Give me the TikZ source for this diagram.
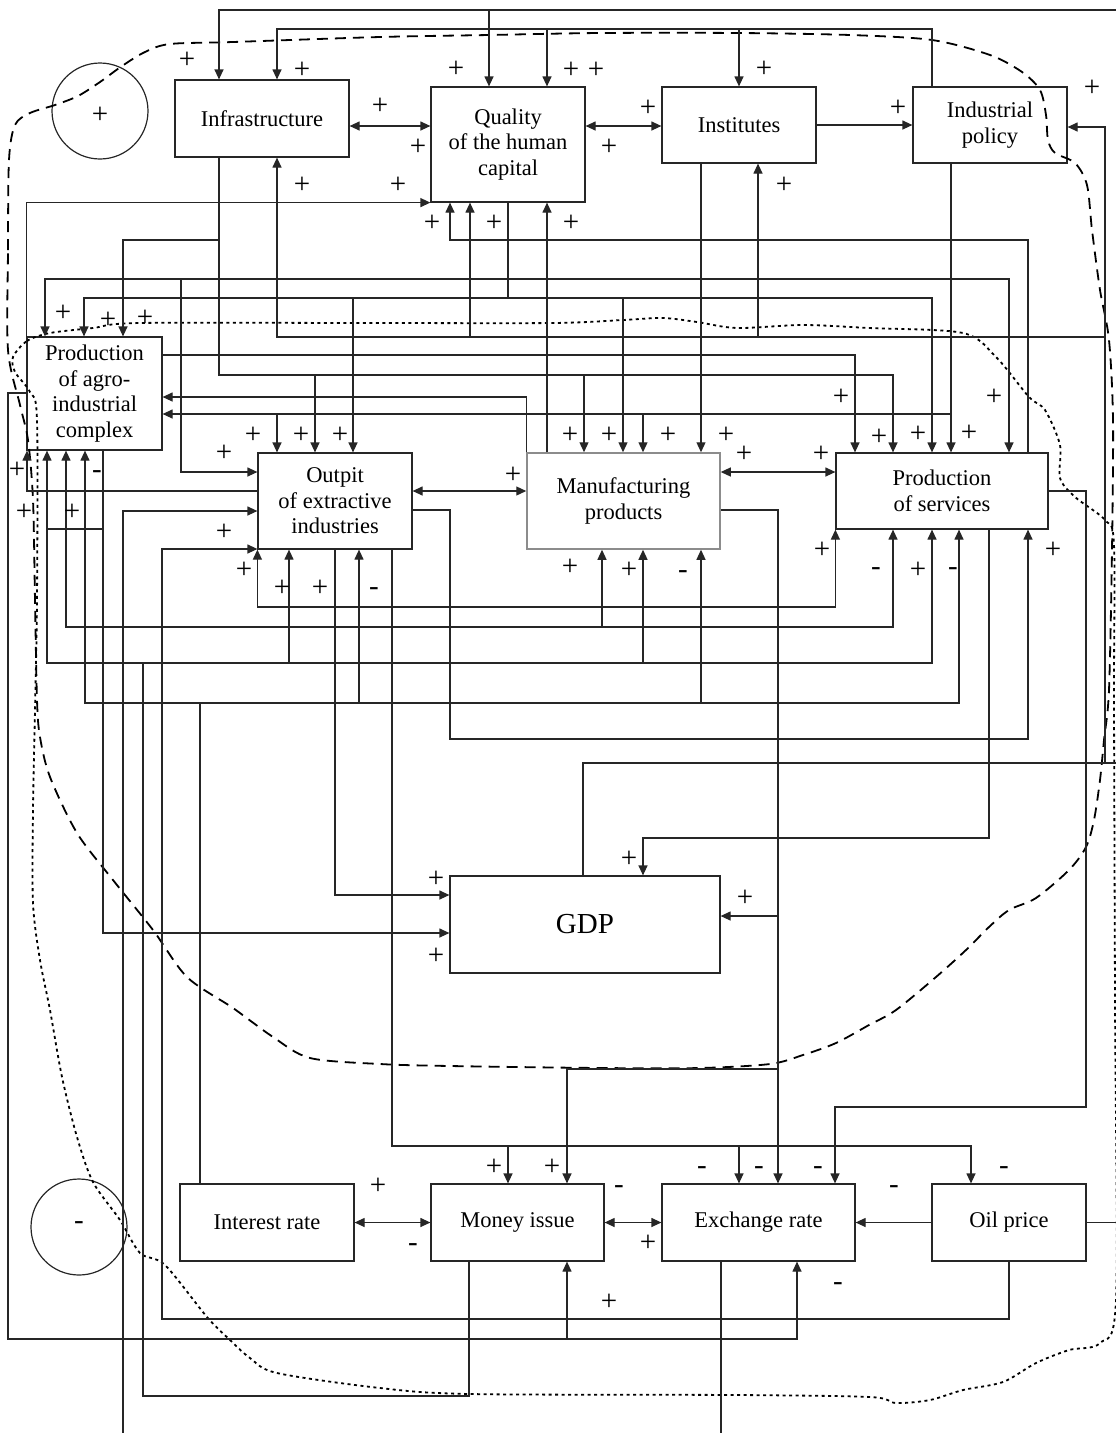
\documentclass[tikz,border=0pt]{standalone}
\usepackage{fontspec}
\setmainfont{Liberation Serif}
\usetikzlibrary{arrows.meta}
\begin{document}
\begin{tikzpicture}[x=1pt,y=-1pt,
 box/.style={draw=black!85, line width=1.2pt, inner sep=2pt, align=center, font=\fontsize{22.5}{25.5}\selectfont},
 ln/.style={draw=black!85, line width=1.2pt},
 ar/.style={ln, -{Triangle[length=10pt,width=9pt]}},
 dar/.style={ln, {Triangle[length=10pt,width=9pt]}-{Triangle[length=10pt,width=9pt]}},
 lab/.style={inner sep=0pt, font=\fontsize{29}{29}\selectfont},
 circ/.style={circle, draw=black!85, line width=1.2pt, minimum size=96pt, inner sep=0pt},
 dashloop/.style={line width=1.8pt, dash pattern=on 11pt off 7pt},
 dotloop/.style={line width=1.8pt, dash pattern=on 3pt off 3.5pt}]
\useasboundingbox (0,0) rectangle (1116,1433);

% nodes
\node[box, minimum width=174pt, minimum height=77pt] (infra) at (262,118.5) {Infrastructure};
\node[box, minimum width=154pt, minimum height=115pt] (quality) at (508,144.5) {Quality\\of the human\\capital};
\node[box, minimum width=154pt, minimum height=76pt] (inst) at (739,125) {Institutes};
\node[box, minimum width=154pt, minimum height=76pt] (ipol) at (990,125) {Industrial\\policy};
\node[box, minimum width=135pt, minimum height=113pt] (agro) at (94.5,393.5) {Production\\of agro-\\industrial\\complex};
\node[box, minimum width=154pt, minimum height=96pt] (outp) at (335,501) {Outpit\\of extractive\\industries};
\node[box, draw=black!45, line width=1.5pt, minimum width=193pt, minimum height=96pt] (manu) at (623.5,501) {Manufacturing\\products};
\node[box, minimum width=212pt, minimum height=76pt] (serv) at (942,491) {Production\\of services};
\node[box, minimum width=270pt, minimum height=97pt, font=\fontsize{29}{32}\selectfont] (gdp) at (585,924.5) {GDP};
\node[box, minimum width=174pt, minimum height=77pt] (irate) at (267,1222.5) {Interest rate};
\node[box, minimum width=173pt, minimum height=77pt] (money) at (517.5,1222.5) {Money issue};
\node[box, minimum width=193pt, minimum height=77pt] (exch) at (758.5,1222.5) {Exchange rate};
\node[box, minimum width=154pt, minimum height=77pt] (oil) at (1009,1222.5) {Oil price};
\node[circ] (cplus) at (100,111) {};
\node[circ] (cminus) at (79,1227) {};
\node[lab] (lcplus) at (100,115) {+};
\node[lab] (lcminus) at (79,1226) {-};

% free ends at the picture's edges
\coordinate (topR) at (1116,10);
\coordinate (oilR) at (1116,1222.5);
\coordinate (gdpR) at (1116,763);
\coordinate (botA) at (123,1433);
\coordinate (botB) at (721,1433);

% loops
\draw[dashloop] plot[smooth cycle, tension=0.5] coordinates {(8,350) (8,250) (9,160) (15,125) (30,113) (55,105) (78,96) (100,82) (122,66) (145,52) (170,44) (233,42) (380,37) (489,35) (600,33) (739,33) (850,35) (932,40) (990,55) (1022,72) (1040,90) (1046,115) (1048,140) (1055,153) (1075,163) (1087,185) (1092,230) (1100,290) (1109,340) (1113,420) (1112,550) (1109,690) (1104,740) (1100,780) (1094,820) (1086,847) (1069,870) (1036,898) (1009,910) (989,927) (966,950) (936,977) (896,1010) (869,1025) (836,1043) (803,1055) (770,1064) (700,1068) (600,1068) (450,1066) (380,1064) (310,1058) (273,1037) (233,1008) (187,977) (153,930) (113,880) (77,833) (50,777) (40,737) (37,700) (35,600) (33,500) (28,440) (20,405)};
\draw[dotloop] plot[smooth cycle, tension=0.5] coordinates {(13,357) (27,341) (50,333) (93,328) (140,323) (370,323) (553,323) (623,320) (663,318) (697,322) (737,328) (803,325) (869,328) (963,333) (996,357) (1029,397) (1045,410) (1060,445) (1060,478) (1075,497) (1105,520) (1114,545) (1114,700) (1115,1000) (1116,1300) (1100,1343) (1069,1350) (1036,1363) (1003,1382) (963,1390) (930,1400) (896,1403) (870,1397) (736,1395) (470,1394) (380,1388) (277,1373) (250,1358) (230,1340) (207,1317) (165,1265) (140,1253) (120,1220) (93,1182) (77,1137) (62,1077) (50,1010) (40,960) (33,903) (33,810) (35,710) (37,600) (37,420) (30,392) (15,372)};

% top feedback line
\draw[ar] (topR) -| (infra.north-|219,0);
\draw[ar] (489,10) -- (quality.north-|489,0);
% industrial policy -> infrastructure, quality, institutes
\draw[ar] (ipol.north-|932,0) |- (277,29) -- (infra.north-|277,0);
\draw[ar] (547,29) -- (quality.north-|547,0);
\draw[ar] (739,29) -- (inst.north-|739,0);
% horizontal links in the top row
\draw[dar] (infra.east|-0,126) -- (quality.west|-0,126);
\draw[dar] (quality.east|-0,126) -- (inst.west|-0,126);
\draw[ar] (inst.east|-0,125) -- (ipol.west|-0,125);
% GDP feedback
\draw[ar] (gdp.north-|583,0) |- (1105,763) |- (ipol.east|-0,127);
\draw[ln] (1105,763) -- (gdpR);
\draw[ar] (1105,337) -| (infra.south-|277,0);
\draw[ar] (470,337) -- (quality.south-|470,0);
\draw[ar] (758,337) -- (inst.south-|758,0);
% agro -> quality
\draw[ar] (agro.north west) |- (quality.south west);
% services -> quality
\draw[ar] (serv.north-|1028,0) |- (450,240) -- (quality.south-|450,0);
% infrastructure -> sectors
\draw[ar] (infra.south-|219,0) |- (893,375) -- (serv.north-|893,0);
\draw[ar] (219,240) -| (agro.north-|123,0);
\draw[ar] (315,375) -- (outp.north-|315,0);
\draw[ar] (584,375) -- (manu.north-|584,0);
% quality -> sectors
\draw[ar] (quality.south-|508,0) |- (84,298) -- (agro.north-|84,0);
\draw[ar] (508,298) -| (serv.north-|932,0);
\draw[ar] (353,298) -- (outp.north-|353,0);
\draw[ar] (623,298) -- (manu.north-|623,0);
% institutes -> sectors
\draw[ar] (inst.south-|701,0) -- (manu.north-|701,0);
\draw[ar] (701,279) -| (agro.north-|45,0);
\draw[ar] (701,279) -| (serv.north-|1009,0);
\draw[ar] (181,279) |- (outp.west|-0,472);
% industrial policy -> sectors
\draw[ar] (ipol.south-|951,0) -- (serv.north-|951,0);
\draw[ar] (951,414) -- (agro.east|-0,414);
\draw[ar] (277,414) -- (outp.north-|277,0);
\draw[ar] (643,414) -- (manu.north-|643,0);
% manufacturing -> agro, quality
\draw[ar] (manu.north west) |- (agro.east|-0,397);
\draw[ar] (manu.north-|547,0) -- (quality.south-|547,0);
% agro -> services
\draw[ar] (agro.east|-0,355) -| (serv.north-|855,0);
% middle row links
\draw[dar] (outp.east|-0,491) -- (manu.west|-0,491);
\draw[dar] (manu.east|-0,472) -- (serv.west|-0,472);
\draw[ar] (outp.west|-0,491) -| (agro.south-|27,0);
% agro -> GDP
\draw[ar] (agro.south-|103,0) |- (gdp.west|-0,933);
\draw[ln] (103,529) -- (47,529);
% money issue -> sectors
\draw[ar] (money.south-|469,0) |- (143,1396) |- (47,663) -- (agro.south-|47,0);
\draw[ar] (143,663) -| (serv.south-|932,0);
\draw[ar] (289,663) -- (outp.south-|289,0);
\draw[ar] (643,663) -- (manu.south-|643,0);
% interest rate -> sectors
\draw[ar] (irate.north-|200,0) |- (85,703) -- (agro.south-|85,0);
\draw[ar] (200,703) -| (serv.south-|959,0);
\draw[ar] (359,703) -- (outp.south-|359,0);
\draw[ar] (701,703) -- (manu.south-|701,0);
% exchange rate -> sectors (through the bottom edge)
\draw[ln] (exch.south-|721,0) -- (botB);
\draw[ar] (botA) |- (outp.west|-0,511);
\draw[ar] (123,627) -| (agro.south-|66,0);
\draw[ar] (123,627) -| (serv.south-|893,0);
\draw[ar] (602,627) -- (manu.south-|602,0);
% y=607 line
\draw[ar] (778,607) -| (outp.south west);
\draw[ar] (778,607) -| (serv.south west);
% outpit -> GDP, services, money, exchange, oil
\draw[ar] (outp.south-|335,0) |- (gdp.west|-0,895);
\draw[ar] (outp.east|-0,510) -| (450,739) -| (serv.south-|1028,0);
\draw[ar] (outp.south-|392,0) |- (971,1146) -- (oil.north-|971,0);
\draw[ar] (508,1146) -- (money.north-|508,0);
\draw[ar] (739,1146) -- (exch.north-|739,0);
% manufacturing -> GDP, money, exchange
\draw[ar] (manu.east|-0,510) -| (778,1069) -- (exch.north-|778,0);
\draw[ar] (778,916) -- (gdp.east|-0,916);
\draw[ar] (778,1069) -| (money.north-|567,0);
% services -> GDP, exchange
\draw[ar] (serv.south-|989,0) |- (643,838) -- (gdp.north-|643,0);
\draw[ar] (serv.east|-0,491) -| (1086,1107) -| (exch.north-|835,0);
% bottom row
\draw[dar] (irate.east) -- (money.west);
\draw[dar] (money.east) -- (exch.west);
\draw[ar] (oil.west) -- (exch.east);
\draw[ln] (oil.east) -- (oilR);
\draw[ar] (oil.south-|1009,0) |- (162,1319) |- (outp.west|-0,549);
\draw[ar] (agro.west|-0,393) -| (8,1339) -| (exch.south-|797,0);
\draw[ar] (567,1339) -- (money.south-|567,0);

% sign labels
\foreach \x/\y/\s in {187/60/+, 302/70/+, 456/69/+, 571/70/+, 596/70/+, 764/69/+, 1092/88/+, 380/106/+, 418/147/+, 648/108/+, 609/147/+, 898/108/+, 302/185/+, 398/185/+, 784/185/+, 432/223/+, 494/223/+, 571/223/+, 63/313/+, 108/320/+, 145/318/+, 841/397/+, 994/397/+, 253/435/+, 301/435/+, 340/435/+, 570/435/+, 609/435/+, 668/435/+, 726/435/+, 879/437/+, 918/434/+, 969/433/+, 224/453/+, 513/475/+, 744/454/+, 821/454/+, 17/470/+, 24/512/+, 72/512/+, 224/532/+, 244/570/+, 282/588/+, 320/588/+, 570/567/+, 629/570/+, 822/550/+, 918/570/+, 1053/550/+, 436/879/+, 436/956/+, 629/859/+, 745/898/+, 494/1167/+, 552/1167/+, 378/1186/+, 648/1243/+, 609/1302/+}
  \node[lab] at (\x,\y) {\s};
\foreach \x/\y in {97/475, 374/592, 683/575, 876/572, 953/572, 702/1171, 759/1171, 818/1171, 894/1190, 1004/1171, 413/1248, 619/1190, 838/1287}
  \node[lab] at (\x,\y) {-};
\end{tikzpicture}
\end{document}
